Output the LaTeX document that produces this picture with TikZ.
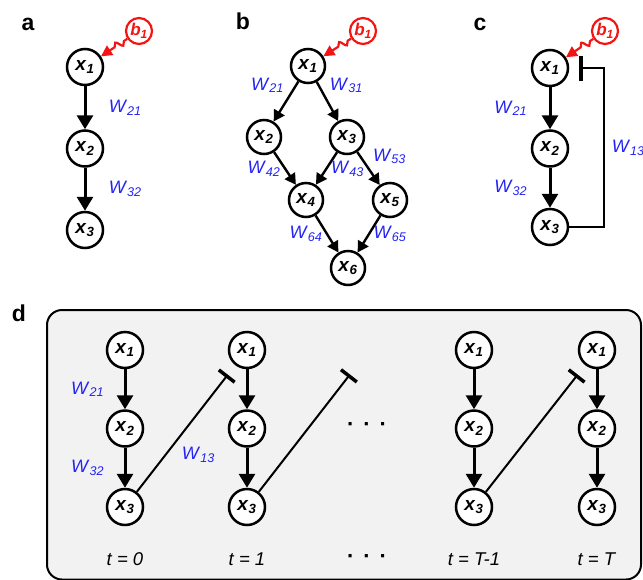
\documentclass[tikz,border=0pt]{standalone}
\usepackage{fontspec}
\setmainfont{Liberation Sans}
\usetikzlibrary{arrows.meta, positioning, decorations.pathmorphing}
\definecolor{wblue}{RGB}{35,35,245}
\definecolor{bred}{RGB}{245,20,20}
\definecolor{panelgray}{RGB}{242,242,242}
\newcommand{\xs}[1]{\textbf{\textit{x}\textsubscript{\textit{#1}}}}
\newcommand{\ws}[1]{\textit{W}\textsubscript{\textit{#1}}}
\newcommand{\bs}[1]{\textbf{\textit{b}\textsubscript{\textit{#1}}}}
\newcommand{\skipdots}{\textperiodcentered\hspace{9pt}\textperiodcentered\hspace{9pt}\textperiodcentered}
\tikzstyle{state} = [circle, draw=black, line width=2.5pt, minimum size=36pt, inner sep=0pt, fill=white, font=\fontsize{19}{19}\selectfont]
\tikzstyle{bias} = [circle, draw=bred, line width=2.2pt, minimum size=26pt, inner sep=0pt, fill=white, text=bred, font=\fontsize{17}{17}\selectfont]
\tikzstyle{weight} = [text=wblue, font=\fontsize{18}{18}\selectfont]
\tikzstyle{panel} = [font=\fontsize{23}{23}\selectfont\bfseries]
\tikzstyle{tlabel} = [font=\fontsize{18.5}{18.5}\selectfont]
\tikzstyle{dotrow} = [font=\fontsize{22}{22}\selectfont\bfseries]
\tikzstyle{arrow} = [line width=3pt, -{Triangle[width=16pt,length=14pt]}]
\tikzstyle{thinarrow} = [line width=2.4pt, -{Triangle[width=12pt,length=11pt]}]
\tikzstyle{inhibit} = [line width=2.4pt, -{Bar[width=25pt,line width=4pt]}]
\tikzstyle{inhibitd} = [line width=2pt, -{Bar[width=20pt,line width=3.5pt]}]
\tikzstyle{drive} = [bred, line width=2.2pt, -{Triangle[width=11pt,length=11pt]}, decorate, decoration={snake, amplitude=3.5pt, segment length=10pt, pre length=4pt, post length=16pt}]

\begin{document}
\begin{tikzpicture}[x=1pt, y=-1pt, node distance=43pt]
\useasboundingbox (0,0) rectangle (643,579);

% Panel a
\node (lbl-a) [panel] at (28,24) {a};
\node (a1) [state] at (85,67) {\xs{1}};
\node (a2) [state, below=of a1] {\xs{2}};
\node (a3) [state, below=of a2] {\xs{3}};
\node (a-b1) [bias] at (139,31) {\bs{1}};

% Panel b
\node (lbl-b) [panel] at (243,21) {b};
\node (b1) [state, minimum size=34pt] at (308,66) {\xs{1}};
\node (b2) [state, minimum size=34pt] at (264,137) {\xs{2}};
\node (b3) [state, minimum size=34pt] at (347,137) {\xs{3}};
\node (b4) [state, minimum size=34pt] at (306,200) {\xs{4}};
\node (b5) [state, minimum size=34pt] at (390,200) {\xs{5}};
\node (b6) [state, minimum size=34pt] at (348,268) {\xs{6}};
\node (b-b1) [bias] at (363,31) {\bs{1}};

% Panel c
\node (lbl-c) [panel] at (480,24) {c};
\node (c1) [state] at (550,68) {\xs{1}};
\node (c2) [state, below=42pt of c1] {\xs{2}};
\node (c3) [state, below=40pt of c2] {\xs{3}};
\node (c-b1) [bias] at (605,31) {\bs{1}};

% Panel d
\node (lbl-d) [panel] at (19,313) {d};
\draw [rounded corners=15pt, line width=2pt, fill=panelgray] (47,310) rectangle (641,579.5);

\node (d01) [state] at (125,350) {\xs{1}};
\node (d02) [state, below=40pt of d01] {\xs{2}};
\node (d03) [state, below=40pt of d02] {\xs{3}};
\node (t0) [tlabel, below=23pt of d03] {\textit{t = 0}};

\node (d11) [state] at (247,350) {\xs{1}};
\node (d12) [state, below=40pt of d11] {\xs{2}};
\node (d13) [state, below=40pt of d12] {\xs{3}};
\node (t1) [tlabel, below=23pt of d13] {\textit{t = 1}};

\coordinate (dnext) at (369,350);
\node (dots) [dotrow] at (367,427) {\skipdots};
\node (tdots) [dotrow] at (367,559) {\skipdots};

\node (dT01) [state] at (474,350) {\xs{1}};
\node (dT02) [state, below=40pt of dT01] {\xs{2}};
\node (dT03) [state, below=40pt of dT02] {\xs{3}};
\node (tT0) [tlabel, below=23pt of dT03] {\textit{t = T-1}};

\node (dT11) [state] at (597,350) {\xs{1}};
\node (dT12) [state, below=40pt of dT11] {\xs{2}};
\node (dT13) [state, below=40pt of dT12] {\xs{3}};
\node (tT1) [tlabel, below=23pt of dT13] {\textit{t = T}};

% Arrows
\draw [drive] (a-b1) -- (a1);
\draw [arrow] (a1) -- node[weight, right=19pt] {\ws{21}} (a2);
\draw [arrow] (a2) -- node[weight, right=19pt] {\ws{32}} (a3);

\draw [drive] (b-b1) -- (b1);
\draw [thinarrow] (b1) -- node[weight, above left, pos=0.4] {\ws{21}} (b2);
\draw [thinarrow] (b1) -- node[weight, above right, pos=0.4] {\ws{31}} (b3);
\draw [thinarrow] (b2) -- node[weight, left] {\ws{42}} (b4);
\draw [thinarrow] (b3) -- node[weight, right] {\ws{43}} (b4);
\draw [thinarrow] (b3) -- node[weight, above right] {\ws{53}} (b5);
\draw [thinarrow] (b4) -- node[weight, left] {\ws{64}} (b6);
\draw [thinarrow] (b5) -- node[weight, right] {\ws{65}} (b6);

\draw [drive] (c-b1) -- (c1);
\draw [arrow] (c1) -- node[weight, left=18pt] {\ws{21}} (c2);
\draw [arrow] (c2) -- node[weight, left=18pt] {\ws{32}} (c3);
\draw [inhibit, shorten >=10pt] (c3.east) -- ++(35,0) |- node[weight, right, pos=0.25, xshift=3pt] {\ws{13}} (c1.east);

\draw [arrow] (d01) -- node[weight, left=16pt] {\ws{21}} (d02);
\draw [arrow] (d02) -- node[weight, left=16pt] {\ws{32}} (d03);
\draw [arrow] (d11) -- (d12);
\draw [arrow] (d12) -- (d13);
\draw [arrow] (dT01) -- (dT02);
\draw [arrow] (dT02) -- (dT03);
\draw [arrow] (dT11) -- (dT12);
\draw [arrow] (dT12) -- (dT13);
\draw [inhibitd, shorten >=12pt] (d03) -- node[weight, below right=2pt, pos=0.4] {\ws{13}} (d11);
\draw [inhibitd, shorten >=31pt] (d13) -- (dnext);
\draw [inhibitd, shorten >=12pt] (dT03) -- (dT11);

\end{tikzpicture}
\end{document}
